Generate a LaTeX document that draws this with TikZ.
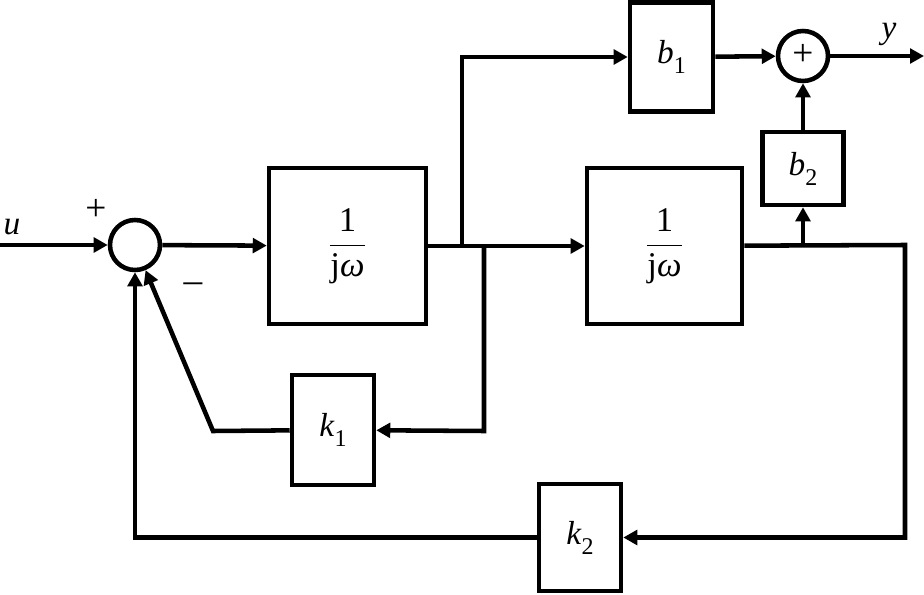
\documentclass[tikz,border=0pt]{standalone}
\usepackage{fontspec}
\setmainfont{Liberation Serif}
\usetikzlibrary{arrows.meta}
\newcommand{\lowidx}[1]{\raisebox{-0.3em}{\fontsize{18}{18}\selectfont #1}}
\begin{document}
\begin{tikzpicture}[x=0.75pt,y=-0.75pt,line width=3.4pt,
  blk/.style={draw,rectangle,inner sep=0pt,line width=3.4pt,font=\fontsize{25}{28}\selectfont},
  sumc/.style={draw,circle,inner sep=0pt,minimum size=37.5pt,line width=3.4pt},
  arr/.style={-{Triangle[length=10.5pt,width=11pt]}},
  lbl/.style={font=\fontsize{25}{28}\selectfont\itshape,inner sep=0pt},
  sgn/.style={font=\fontsize{28}{30}\selectfont,inner sep=0pt}]
\useasboundingbox (0,0) rectangle (924,595);
% nodes
\node[sumc] (s1) at (135,245) {};
\node[blk,minimum width=117.75pt,minimum height=117pt] (g1) at (347.5,246)
  {\fontsize{26}{30}\selectfont$\displaystyle\frac{\mbox{1}}{\mbox{j\textit{ω}}}$};
\node[blk,minimum width=116.25pt,minimum height=117pt] (g2) at (664.5,246)
  {\fontsize{26}{30}\selectfont$\displaystyle\frac{\mbox{1}}{\mbox{j\textit{ω}}}$};
\node[blk,minimum width=62.25pt,minimum height=81.75pt] (b1) at (671.5,57) {\textit{b}\lowidx{1}};
\node[sumc] (s2) at (803,56) {};
\node[sgn] at (803,55) {+};
\node[blk,minimum width=60.75pt,minimum height=54.75pt] (b2) at (803,168.5) {\textit{b}\lowidx{2}};
\node[blk,minimum width=61.5pt,minimum height=82.5pt] (k1) at (333,430) {\textit{k}\lowidx{1}};
\node[blk,minimum width=61.5pt,minimum height=80.25pt] (k2) at (580,537.5) {\textit{k}\lowidx{2}};
% labels
\node[lbl] (lu) at (12,227) {u};
\node[lbl] (ly) at (889,34) {y};
\node[sgn] (lp) at (96,210) {+};
\node[sgn] (lm) at (193,288) {–};
% coordinates
\coordinate (uin) at (0,245);
\coordinate (yout) at (924,56);
\coordinate (p1) at (462,245);
\coordinate (p1t) at (462,57);
\coordinate (p2) at (484,245);
\coordinate (p2b) at (484,431);
\coordinate (k1l) at (213,431);
\coordinate (q1) at (905,245);
\coordinate (q1b) at (905,537.5);
\coordinate (q2) at (135,537.5);
\coordinate (q3) at (803,245);
% connectors
\draw[arr] (uin) -- (s1);
\draw[arr] (s1) -- (g1);
\draw[arr] (g1) -- (g2);
\draw[arr] (p1) -- (p1t) -- (b1);
\draw[arr] (p2) -- (p2b) -- (k1);
\draw[arr] (k1) -- (k1l) -- (s1);
\draw[arr] (g2) -- (q1) -- (q1b) -- (k2);
\draw[arr] (k2) -- (q2) -- (s1);
\draw[arr] (q3) -- (b2);
\draw[arr] (b2) -- (s2);
\draw[arr] (b1) -- (s2);
\draw[arr] (s2) -- (yout);
\end{tikzpicture}
\end{document}
